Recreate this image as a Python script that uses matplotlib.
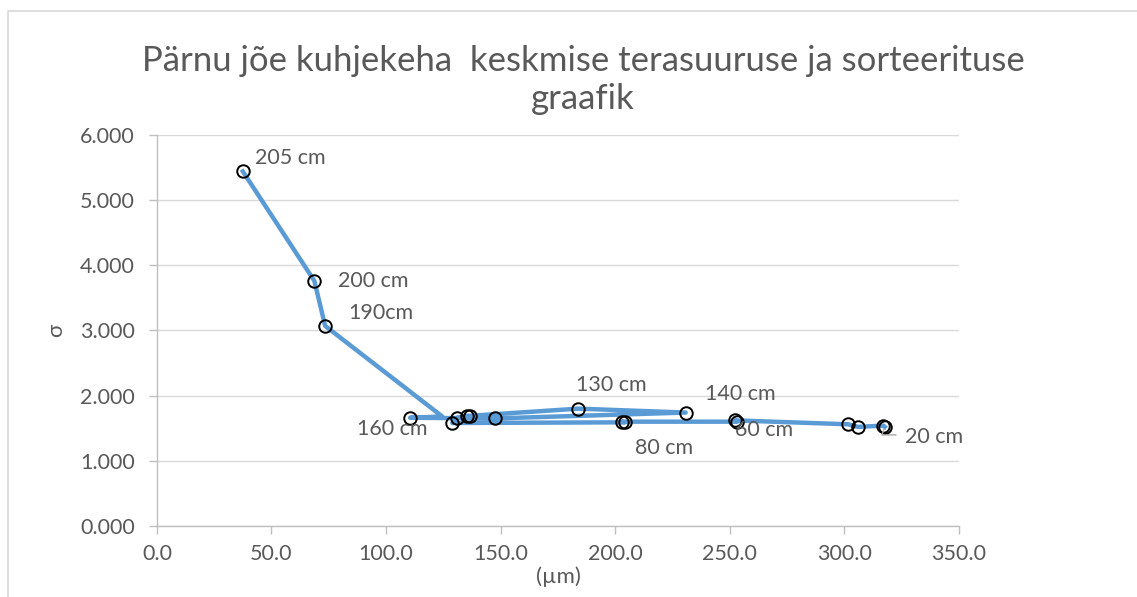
import matplotlib.pyplot as plt
from matplotlib.patches import Rectangle

# mean grain size (um) and sorting (sigma), in sampling order (deepest first)
grain_um = [37.5, 68.7, 73.4, 124.5, 110.5, 147.5, 230.7, 183.9, 136.6, 135.2,
            130.8, 128.9, 204.2, 202.8, 253.2, 252.2, 301.6, 306.0, 316.9, 317.6]
sorting = [5.44, 3.76, 3.07, 1.68, 1.66, 1.65, 1.74, 1.80, 1.69, 1.69,
           1.66, 1.58, 1.59, 1.60, 1.60, 1.62, 1.56, 1.52, 1.54, 1.52]
depth_labels = ['205 cm', '200 cm', '190cm', '', '160 cm', '', '140 cm', '130 cm', '', '',
                '', '', '80 cm', '', '60 cm', '', '', '', '', '20 cm']

x_ticks = [0, 50, 100, 150, 200, 250, 300, 350]
y_ticks = [0, 1, 2, 3, 4, 5, 6]

# label offsets in pixels (dx, dy) from each labelled point
label_offsets = {'205 cm': (12, 13), '200 cm': (24, 0), '190cm': (23, 13),
                 '160 cm': (-53, -11), '130 cm': (-2, 24), '140 cm': (19, 19),
                 '80 cm': (10, -26), '60 cm': (-2, -8), '20 cm': (20, -10)}

plt.rcParams['font.family'] = ['Lato', 'DejaVu Sans']
txt = '#595959'

fig = plt.figure(figsize=(11.37, 5.97), dpi=100)
fig.patches.append(Rectangle((8 / 1137, -0.1), 1.2, 1.1 - 11 / 597, transform=fig.transFigure,
                             fill=False, edgecolor='#d9d9d9', lw=1.2))
ax = fig.add_axes([0.138, 0.119, 0.7055, 0.655])

marker_idx = [i for i in range(len(grain_um)) if i != 3]
ax.plot(grain_um, sorting, color='#5B9BD5', lw=3.2, zorder=3,
        marker='o', markersize=9, markerfacecolor='none', markeredgecolor='black',
        markeredgewidth=1.4, markevery=marker_idx)

for x, y, lab in zip(grain_um, sorting, depth_labels):
    if not lab:
        continue
    dx, dy = label_offsets[lab]
    ax.annotate(lab, (x, y), xytext=(dx, dy), textcoords='offset pixels',
                ha='left', va='center', fontsize=15.5, color=txt, zorder=4)

# small leader line for the last label
ax.annotate('', (grain_um[-1], sorting[-1]), xytext=(14, -8), textcoords='offset pixels',
            arrowprops=dict(arrowstyle='-', color='#a6a6a6', lw=1,
                            connectionstyle='angle,angleA=0,angleB=70'))

ax.set_xlim(0, 350)
ax.set_ylim(0, 6)
ax.set_xticks(x_ticks)
ax.set_yticks(y_ticks)
ax.set_xticklabels([f'{v:.1f}' for v in x_ticks])
ax.set_yticklabels([f'{v:.3f}' for v in y_ticks])
ax.tick_params(axis='both', colors='#bfbfbf', labelcolor=txt, labelsize=15.5,
               length=6, width=1, direction='out')
ax.tick_params(axis='x', pad=7)
ax.tick_params(axis='y', pad=10)

ax.grid(axis='y', color='#d9d9d9', lw=1)
ax.set_axisbelow(True)
for s in ['top', 'right']:
    ax.spines[s].set_visible(False)
for s in ['left', 'bottom']:
    ax.spines[s].set_color('#bfbfbf')
    ax.spines[s].set_linewidth(1)

ax.set_xlabel('(µm)', fontsize=16, color=txt, labelpad=2)
ax.set_ylabel('σ', fontsize=16, color=txt, labelpad=10)

fig.text(583 / 1137, 1 - 80 / 597,
         'Pärnu jõe kuhjekeha  keskmise terasuuruse ja sorteerituse\ngraafik',
         ha='center', va='center', fontsize=25, color=txt, linespacing=1.2)

fig.savefig('out.png', dpi=100)
